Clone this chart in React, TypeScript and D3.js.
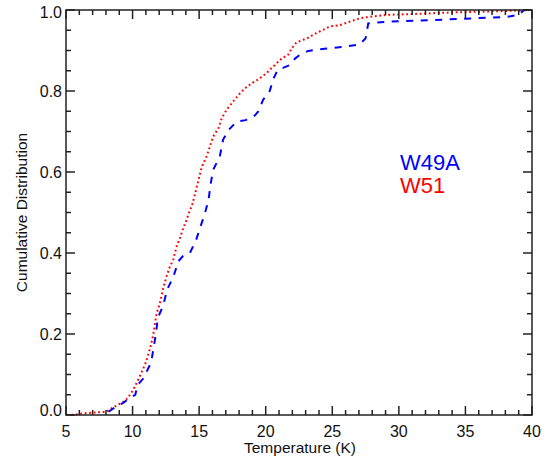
import React from "react";
import * as d3 from "d3";

const w49aTemp = [8.2, 8.8, 9.3, 9.8, 10.2, 10.4, 10.8, 11.4, 11.6, 11.75, 11.9, 12.3, 12.6, 13.05, 13.45, 13.8, 14.3, 14.75, 15.05, 15.45, 15.7, 15.87, 16.05, 16.55, 16.8, 17.25, 17.8, 18.5, 19.2, 19.45, 19.8, 20.3, 20.6, 20.9, 21.3, 21.8, 22.2, 22.6, 23.2, 24.6, 25.8, 27.05, 27.5, 27.7, 29.1, 31.6, 34.6, 38.1, 39.0, 39.4, 40];
const w49aCum = [0.008, 0.022, 0.03, 0.042, 0.05, 0.075, 0.09, 0.13, 0.17, 0.2, 0.24, 0.27, 0.31, 0.34, 0.38, 0.393, 0.4, 0.43, 0.46, 0.5, 0.53, 0.572, 0.605, 0.638, 0.68, 0.705, 0.724, 0.728, 0.74, 0.75, 0.778, 0.8, 0.832, 0.852, 0.857, 0.864, 0.88, 0.89, 0.899, 0.905, 0.909, 0.915, 0.93, 0.967, 0.971, 0.974, 0.978, 0.983, 0.988, 1.0, 1.0];

const w51Temp = [5.4, 6.3, 7.05, 8.05, 8.4, 8.9, 9.45, 9.8, 10.05, 10.35, 10.7, 11.0, 11.2, 11.4, 11.55, 11.8, 12.05, 12.3, 12.55, 12.8, 13.05, 13.3, 13.55, 13.8, 14.05, 14.3, 14.45, 14.7, 14.95, 15.2, 15.55, 15.8, 16.05, 16.45, 16.7, 17.05, 17.45, 17.95, 18.45, 18.95, 19.55, 20.05, 20.55, 20.8, 21.2, 21.7, 21.95, 22.3, 23.1, 23.8, 24.8, 25.6, 26.3, 27.1, 27.8, 29.1, 31.0, 34.0, 37.5, 40];
const w51Cum = [0.0, 0.004, 0.006, 0.008, 0.016, 0.025, 0.035, 0.05, 0.062, 0.082, 0.107, 0.13, 0.152, 0.175, 0.198, 0.25, 0.276, 0.313, 0.342, 0.366, 0.383, 0.416, 0.436, 0.461, 0.481, 0.506, 0.515, 0.547, 0.58, 0.613, 0.638, 0.662, 0.687, 0.708, 0.733, 0.753, 0.77, 0.79, 0.807, 0.819, 0.831, 0.844, 0.86, 0.868, 0.88, 0.89, 0.905, 0.92, 0.93, 0.943, 0.959, 0.963, 0.971, 0.98, 0.983, 0.988, 0.99, 0.994, 0.997, 1.0];

const xTicks = [5, 10, 15, 20, 25, 30, 35, 40];
const yTicks = [0.0, 0.2, 0.4, 0.6, 0.8, 1.0];
const xMinor = d3.range(5, 41, 1);
const yMinor = d3.range(0, 1.0001, 0.05);

const xTitle = "Temperature (K)";
const yTitle = "Cumulative Distribution";
const seriesNames = ["W49A", "W51"];

export default function App() {
  const W = 552, H = 459;
  const left = 66, right = 532, top = 10, bottom = 415;
  const x = d3.scaleLinear().domain([5, 40]).range([left, right]);
  const y = d3.scaleLinear().domain([0, 1]).range([bottom, top]);
  const line = d3.line<number>();
  const mk = (ts: number[], cs: number[]) =>
    line(ts.map((t, i) => [x(t), y(cs[i])] as [number, number]) as any) || "";
  const font = "Arial, 'Liberation Sans', Helvetica, sans-serif";
  const axisColor = "#222";
  const majLen = 9, minLen = 5;
  return (
    <svg width={W} height={H} style={{ position: "absolute", left: 0, top: 0, background: "#fff" }} fontFamily={font}>
      <rect x={0} y={0} width={W} height={H} fill="#fff" />
      <path d={mk(w51Temp, w51Cum)} fill="none" stroke="#ff0000" strokeWidth={2} strokeDasharray="1.8,2.7" />
      <path d={mk(w49aTemp, w49aCum)} fill="none" stroke="#0000ff" strokeWidth={2} strokeDasharray="7,7.5" />
      <g stroke={axisColor} strokeWidth={1.5}>
        {xMinor.map((v) => {
          const major = v % 5 === 0;
          const l = major ? majLen : minLen;
          return (
            <g key={"x" + v}>
              <line x1={x(v)} x2={x(v)} y1={bottom} y2={bottom - l} />
              <line x1={x(v)} x2={x(v)} y1={top} y2={top + l} />
            </g>
          );
        })}
        {yMinor.map((v, i) => {
          const major = i % 4 === 0;
          const l = major ? majLen : minLen;
          return (
            <g key={"y" + i}>
              <line x1={left} x2={left + l} y1={y(v)} y2={y(v)} />
              <line x1={right} x2={right - l} y1={y(v)} y2={y(v)} />
            </g>
          );
        })}
        <rect x={left} y={top} width={right - left} height={bottom - top} fill="none" />
      </g>
      <g fontSize={16} fill="#111">
        {xTicks.map((v) => (
          <text key={"xt" + v} x={x(v)} y={437} textAnchor="middle">{v}</text>
        ))}
        {yTicks.map((v) => (
          <text key={"yt" + v} x={62} y={Math.min(416, Math.max(18, y(v) + 6))} textAnchor="end">{v.toFixed(1)}</text>
        ))}
      </g>
      <text x={(left + right) / 2 + 1} y={453} fontSize={15.5} textAnchor="middle" fill="#111">{xTitle}</text>
      <text transform={`translate(27, ${(top + bottom) / 2}) rotate(-90)`} fontSize={15.5} textAnchor="middle" fill="#111">{yTitle}</text>
      <text x={400} y={170} fontSize={22} fill="#0000ff">{seriesNames[0]}</text>
      <text x={400} y={193} fontSize={22} fill="#ff0000">{seriesNames[1]}</text>
    </svg>
  );
}
